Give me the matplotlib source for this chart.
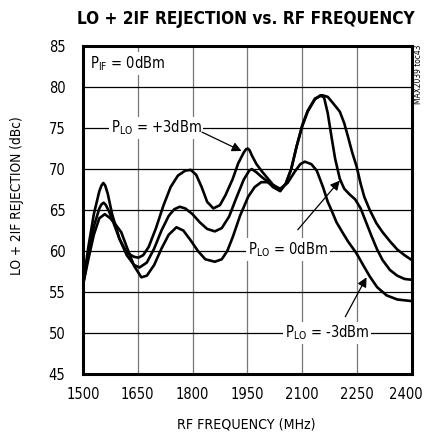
import matplotlib
matplotlib.use('Agg')
import matplotlib.pyplot as plt
import matplotlib.transforms as mtransforms

plt.rcParams['font.family'] = ['DejaVu Sans']
plt.rcParams['font.stretch'] = 'condensed'
plt.rcParams['mathtext.fontset'] = 'custom'
plt.rcParams['mathtext.rm'] = 'DejaVu Sans:stretch=condensed'

# data (MHz, dBc)
f_p3 = [1500, 1515, 1530, 1545, 1551, 1556, 1561, 1568, 1580, 1600, 1620, 1640, 1652, 1665,
        1680, 1700, 1720, 1740, 1760, 1780, 1795, 1810, 1825, 1840, 1857, 1875, 1890, 1910,
        1925, 1940, 1946, 1951, 1956, 1963, 1975, 1990, 2005, 2020, 2040, 2055, 2070, 2085,
        2100, 2115, 2135, 2155, 2170, 2185, 2203, 2215, 2225, 2237, 2249, 2260, 2270, 2285,
        2303, 2320, 2340, 2360, 2380, 2400]
r_p3 = [55.8, 60.5, 64.5, 67.3, 68.0, 68.3, 68.0, 67.0, 64.5, 61.5, 59.8, 59.3, 59.2, 59.5,
        60.5, 62.8, 65.5, 67.8, 69.2, 69.8, 69.9, 69.3, 67.8, 66.0, 65.2, 65.6, 66.8, 68.8,
        70.7, 72.0, 72.4, 72.5, 72.3, 71.6, 70.6, 69.7, 68.9, 68.1, 67.5, 68.2, 70.0, 72.8,
        75.3, 77.1, 78.6, 79.0, 78.8, 78.0, 77.0, 75.6, 74.0, 72.0, 70.3, 68.2, 66.6, 65.0,
        63.4, 62.3, 61.2, 60.2, 59.5, 58.9]

f_0 = [1500, 1515, 1530, 1545, 1551, 1557, 1563, 1572, 1585, 1600, 1620, 1640, 1655, 1675,
       1695, 1715, 1735, 1750, 1765, 1780, 1800, 1820, 1840, 1861, 1880, 1900, 1920, 1940,
       1955, 1962, 1975, 1990, 2005, 2020, 2040, 2055, 2070, 2085, 2100, 2115, 2135, 2150,
       2160, 2170, 2180, 2190, 2203, 2215, 2230, 2245, 2260, 2275, 2290, 2305, 2320, 2340,
       2360, 2380, 2400]
r_0 = [55.8, 59.5, 63.0, 65.2, 65.7, 65.9, 65.6, 64.8, 63.3, 61.5, 59.5, 58.3, 58.0, 58.6,
       60.3, 62.5, 64.3, 65.1, 65.4, 65.2, 64.5, 63.5, 62.7, 62.4, 62.8, 64.2, 66.5, 68.7,
       69.8, 70.0, 69.6, 69.0, 68.5, 67.8, 67.3, 68.2, 70.0, 72.8, 75.2, 77.0, 78.5, 79.0,
       78.7, 76.8, 74.0, 71.3, 68.8, 67.6, 66.9, 66.3, 65.2, 63.5, 61.8, 60.2, 58.9, 57.7,
       57.0, 56.6, 56.5]

f_m3 = [1500, 1515, 1530, 1545, 1560, 1575, 1590, 1605, 1620, 1640, 1660, 1675, 1695, 1715,
        1735, 1756, 1775, 1795, 1815, 1835, 1861, 1880, 1895, 1910, 1930, 1952, 1970, 1988,
        2005, 2020, 2040, 2060, 2080, 2095, 2107, 2125, 2140, 2157, 2170, 2180, 2194, 2210,
        2225, 2249, 2268, 2285, 2305, 2331, 2360, 2400]
r_m3 = [55.8, 59.0, 62.0, 64.0, 64.5, 64.0, 63.2, 62.3, 60.5, 58.2, 56.8, 57.0, 58.3, 60.3,
        62.0, 62.9, 62.5, 61.3, 60.0, 59.0, 58.7, 59.0, 60.0, 61.7, 64.3, 66.6, 67.8, 68.4,
        68.4, 68.0, 67.6, 68.3, 69.7, 70.6, 70.9, 70.6, 69.8, 67.8, 66.0, 65.0, 63.5, 62.3,
        61.2, 59.7, 58.2, 56.9, 55.6, 54.6, 54.1, 53.9]

xticks = [1500, 1650, 1800, 1950, 2100, 2250, 2400]
yticks = [45, 50, 55, 60, 65, 70, 75, 80, 85]

fig = plt.figure(figsize=(4.25, 4.34), dpi=100)
ax = fig.add_axes([0.195, 0.138, 0.774, 0.756])

for f, r in [(f_p3, r_p3), (f_0, r_0), (f_m3, r_m3)]:
    ax.plot(f, r, color='black', lw=1.9, solid_capstyle='round', solid_joinstyle='round', zorder=3)

ax.set_xlim(1500, 2400)
ax.set_ylim(45, 85)
ax.set_xticks(xticks)
ax.set_yticks(yticks)
ax.tick_params(length=0, labelsize=10.5)
ax.tick_params(axis='x', pad=9.5)
ax.tick_params(axis='y', pad=12.5)
for s in ax.spines.values():
    s.set_linewidth(2.2)
ax.grid(axis='x', color='#777777', lw=0.9)
ax.grid(axis='y', color='black', lw=0.9)
ax.set_axisbelow(True)

# last x tick label sits against the edge, nudge it in a bit
lab = ax.get_xticklabels()[-1]
lab.set_transform(lab.get_transform() + mtransforms.ScaledTranslation(-4 / 72, 0, fig.dpi_scale_trans))

ax.set_xlabel('RF FREQUENCY (MHz)', fontsize=10.2)
ax.xaxis.set_label_coords(0.497, -0.131)
ax.set_ylabel('LO + 2IF REJECTION (dBc)', fontsize=9.8)
ax.yaxis.set_label_coords(-0.179, 0.545)
fig.text(0.578, 0.957, 'LO + 2IF REJECTION vs. RF FREQUENCY', ha='center', va='center',
         fontsize=12.3, fontweight='heavy')
fig.text(0.984, 0.83, 'MAX2039 toc43', rotation=90, ha='center', va='center', fontsize=6)

box = dict(facecolor='white', edgecolor='none', pad=1.5)
arr = dict(arrowstyle='-|>', color='black', lw=0.9, mutation_scale=14, shrinkA=0, shrinkB=0)

ax.text(1520, 82.9, r'P$_{\rm IF}$ = 0dBm', fontsize=10.5, ha='left', va='center', bbox=box, zorder=4)
ax.text(1700, 75.0, r'P$_{\rm LO}$ = +3dBm', fontsize=10.5, ha='center', va='center', bbox=box, zorder=4)
ax.annotate('', xy=(1934, 72.2), xytext=(1826, 74.5), arrowprops=arr, zorder=5)
ax.text(2062, 60.2, r'P$_{\rm LO}$ = 0dBm', fontsize=10.5, ha='center', va='center', bbox=box, zorder=4)
ax.annotate('', xy=(2203, 68.6), xytext=(2088, 62.6), arrowprops=arr, zorder=5)
ax.text(2168, 50.0, r'P$_{\rm LO}$ = -3dBm', fontsize=10.5, ha='center', va='center', bbox=box, zorder=4)
ax.annotate('', xy=(2276, 56.8), xytext=(2218, 52.0), arrowprops=arr, zorder=5)

fig.savefig('out.png', dpi=100)
